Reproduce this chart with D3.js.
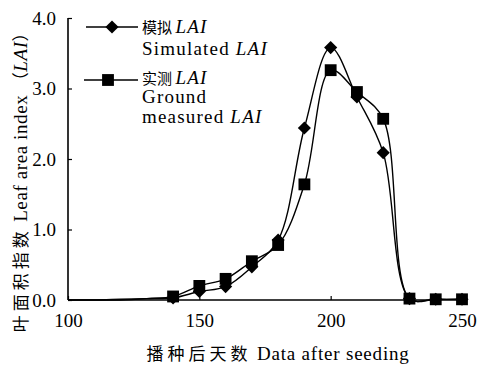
<!DOCTYPE html>
<html>
<head>
<meta charset="utf-8">
<script src="https://cdn.jsdelivr.net/npm/d3@7"></script>
<style>
  body { margin: 0; background: #fff; }
  text { font-family: "Liberation Serif", "Times New Roman", serif; fill: #000; }
  .cjk { font-family: "Noto Sans CJK SC", sans-serif; }
</style>
</head>
<body>
<svg id="chart" width="478" height="366"></svg>
<script>
// days after seeding
const days = [100, 110, 120, 130, 140, 150, 160, 170, 180, 190, 200, 210, 220, 230, 240, 250];
// simulated LAI
const simulated = [0.0, 0.0, 0.01, 0.02, 0.03, 0.12, 0.19, 0.47, 0.85, 2.44, 3.58, 2.88, 2.09, 0.02, 0.01, 0.01];
// ground measured LAI
const measured = [0.0, 0.0, 0.0, 0.02, 0.05, 0.2, 0.3, 0.55, 0.78, 1.64, 3.26, 2.95, 2.57, 0.02, 0.01, 0.01];
const markerFrom = 140;
const xTicks = [100, 150, 200, 250];
const yTicks = [0, 1, 2, 3, 4];

const svg = d3.select("#chart");

const x = d3.scaleLinear().domain([100, 250]).range([68, 462]);
const y = d3.scaleLinear().domain([0, 4]).range([300, 18]);

// axes
const xAxis = d3.axisBottom(x).tickValues(xTicks).tickSize(-4).tickPadding(14).tickFormat(d3.format("d"));
const yAxis = d3.axisLeft(y).tickValues(yTicks).tickSize(-4).tickPadding(12).tickFormat(d3.format(".1f"));

const gx = svg.append("g").attr("transform", "translate(0," + y(0) + ")").call(xAxis);
const gy = svg.append("g").attr("transform", "translate(" + x(100) + ",0)").call(yAxis);

gx.select(".domain").attr("d", "M" + x(100) + ",0H" + (x(250) + 5)).attr("stroke", "#000").attr("stroke-width", 1.6);
gy.select(".domain").attr("d", "M0," + y(0) + "V" + y(4)).attr("stroke", "#000").attr("stroke-width", 1.6);
svg.selectAll(".tick line").attr("stroke", "#000").attr("stroke-width", 1.2);
svg.selectAll(".tick text").style("font-size", "19px").style("font-family", "Liberation Serif, serif");

// lines
const simData = days.map((d, i) => ({ day: d, value: simulated[i] }));
const meaData = days.map((d, i) => ({ day: d, value: measured[i] }));

const line = d3.line()
  .x(d => x(d.day))
  .y(d => y(d.value))
  .curve(d3.curveCatmullRom.alpha(0.5));

svg.append("path").datum(simData)
  .attr("fill", "none").attr("stroke", "#000").attr("stroke-width", 1.4)
  .attr("d", line);
svg.append("path").datum(meaData)
  .attr("fill", "none").attr("stroke", "#000").attr("stroke-width", 1.4)
  .attr("d", line);

const diamond = d3.symbol().type(d3.symbolDiamond2).size(110);
const square = d3.symbol().type(d3.symbolSquare).size(140);

svg.append("g").selectAll("path")
  .data(simData.filter(d => d.day >= markerFrom))
  .enter().append("path")
  .attr("transform", d => "translate(" + x(d.day) + "," + y(d.value) + ")")
  .attr("d", diamond).attr("fill", "#000");

svg.append("g").selectAll("path")
  .data(meaData.filter(d => d.day >= markerFrom))
  .enter().append("path")
  .attr("transform", d => "translate(" + x(d.day) + "," + y(d.value) + ")")
  .attr("d", square).attr("fill", "#000");

// legend
const legend = svg.append("g");
legend.append("line").attr("x1", 86).attr("x2", 138).attr("y1", 27).attr("y2", 27)
  .attr("stroke", "#000").attr("stroke-width", 1.4);
legend.append("path").attr("transform", "translate(112,27)").attr("d", diamond).attr("fill", "#000");
legend.append("line").attr("x1", 84).attr("x2", 138).attr("y1", 80).attr("y2", 80)
  .attr("stroke", "#000").attr("stroke-width", 1.4);
legend.append("path").attr("transform", "translate(108,80)").attr("d", square).attr("fill", "#000");

function legendLine(yPos, parts) {
  const t = legend.append("text").attr("x", 142).attr("y", yPos)
    .style("font-size", "19px").style("letter-spacing", "1.2px");
  parts.forEach(p => {
    const s = t.append("tspan").text(p.text);
    if (p.cjk) s.attr("class", "cjk").style("font-size", "15px").style("letter-spacing", "0px");
    if (p.italic) s.style("font-style", "italic");
  });
}
legendLine(33, [{ text: "模拟 ", cjk: true }, { text: "LAI", italic: true }]);
legendLine(55, [{ text: "Simulated  " }, { text: "LAI", italic: true }]);
legendLine(84, [{ text: "实测 ", cjk: true }, { text: "LAI", italic: true }]);
legendLine(103, [{ text: "Ground" }]);
legendLine(123, [{ text: "measured " }, { text: "LAI", italic: true }]);

// axis titles
const xt = svg.append("text").attr("x", 278).attr("y", 360).attr("text-anchor", "middle")
  .style("font-size", "19px").style("letter-spacing", "0.8px");
xt.append("tspan").attr("class", "cjk").style("font-size", "17px").style("letter-spacing", "4px").text("播种后天数");
xt.append("tspan").text("  Data after seeding");

const yt = svg.append("text").attr("transform", "translate(27,178) rotate(-90)")
  .attr("text-anchor", "middle").style("font-size", "19px").style("letter-spacing", "0.6px");
yt.append("tspan").attr("class", "cjk").style("font-size", "17px").style("letter-spacing", "4px").text("叶面积指数");
yt.append("tspan").text(" Leaf area index ");
yt.append("tspan").attr("class", "cjk").style("font-size", "17px").text("（");
yt.append("tspan").style("font-style", "italic").text("LAI");
yt.append("tspan").attr("class", "cjk").style("font-size", "17px").text("）");
</script>
</body>
</html>
